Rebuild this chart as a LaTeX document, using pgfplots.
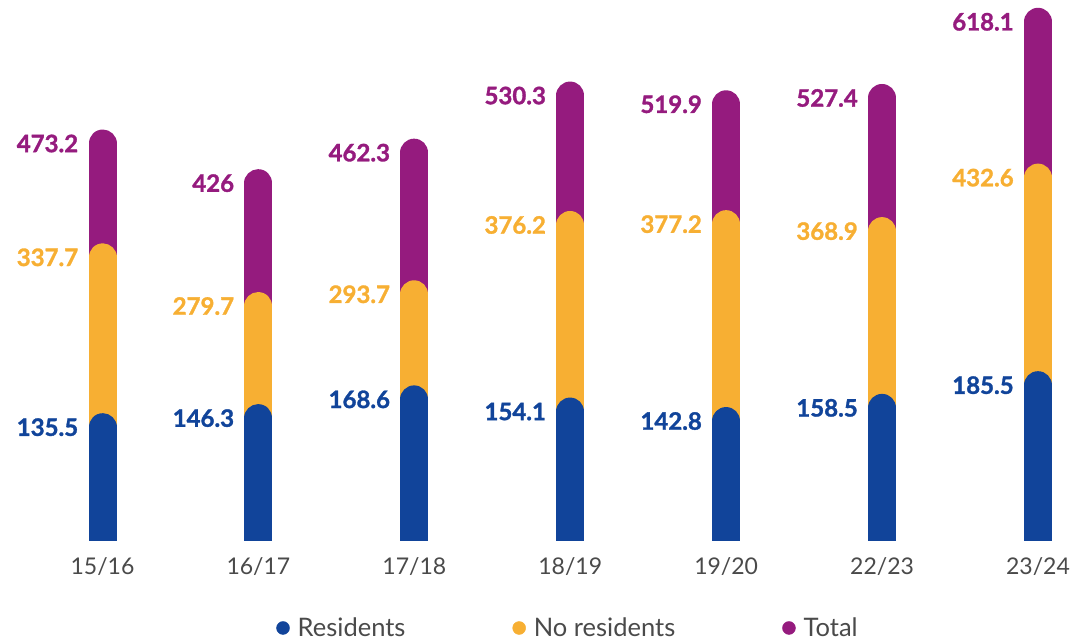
\documentclass[border=0pt]{standalone}
\usepackage{fontspec}
\setmainfont{Lato}
\newfontfamily\valfont{Lato}[UprightFont=* Bold, FakeBold=1.3]
\usepackage{pgfplots}
\pgfplotsset{compat=1.18}
\definecolor{cRes}{HTML}{11449A}
\definecolor{cNo}{HTML}{F7AF33}
\definecolor{cTot}{HTML}{951B7E}
\definecolor{cTxt}{HTML}{4A4A4A}
\pgfplotsset{
  roundbar/.style={ycomb, line width=28pt, line cap=round, mark=none, forget plot},
}
\begin{document}
\begin{tikzpicture}
\useasboundingbox (0,0) rectangle (1077pt,640pt);
\begin{axis}[
  at={(0pt,99pt)}, anchor=south west,
  scale only axis, width=1077pt, height=537.6pt,
  xmin=-0.6575, xmax=6.25, ymin=0, ymax=640,
  axis line style={draw=none},
  ymajorticks=false,
  xtick={0,1,2,3,4,5,6},
  xticklabels={15/16,16/17,17/18,18/19,19/20,22/23,23/24},
  major tick length=0pt,
  xticklabel style={font=\fontsize{23}{27}\selectfont, text=cTxt, inner sep=0pt, yshift=-16.5pt},
  /pgf/number format/assume math mode=true,
  nodes near coords,
  every node near coord/.append style={anchor=east, xshift=-7pt, font=\fontsize{24}{28}\selectfont\valfont},
  legend columns=3,
  legend style={draw=none, fill=none, at={(0.5274,-0.1618)}, anchor=center,
    font=\fontsize{25.5}{30}\selectfont, text=cTxt,
    /tikz/every odd column/.append style={column sep=6pt},
    /tikz/every even column/.append style={column sep=105pt}},
  legend cell align=left,
]
\addplot[roundbar, cTot, every node near coord/.append style={text=cTot}] coordinates {
(0,473.2) (1,426) (2,462.3) (3,530.3) (4,519.9) (5,527.4) (6,618.1)};
\addplot[roundbar, cNo, every node near coord/.append style={text=cNo}] coordinates {
(0,337.7) (1,279.7) (2,293.7) (3,376.2) (4,377.2) (5,368.9) (6,432.6)};
\addplot[roundbar, cRes, every node near coord/.append style={text=cRes}] coordinates {
(0,135.5) (1,146.3) (2,168.6) (3,154.1) (4,142.8) (5,158.5) (6,185.5)};
\addlegendimage{legend image code/.code={\fill[cRes] (0pt,0pt) circle (6.5pt);}}
\addlegendentry{Residents}
\addlegendimage{legend image code/.code={\fill[cNo] (0pt,0pt) circle (6.5pt);}}
\addlegendentry{No residents}
\addlegendimage{legend image code/.code={\fill[cTot] (0pt,0pt) circle (6.5pt);}}
\addlegendentry{Total}
\end{axis}
\end{tikzpicture}
\end{document}
